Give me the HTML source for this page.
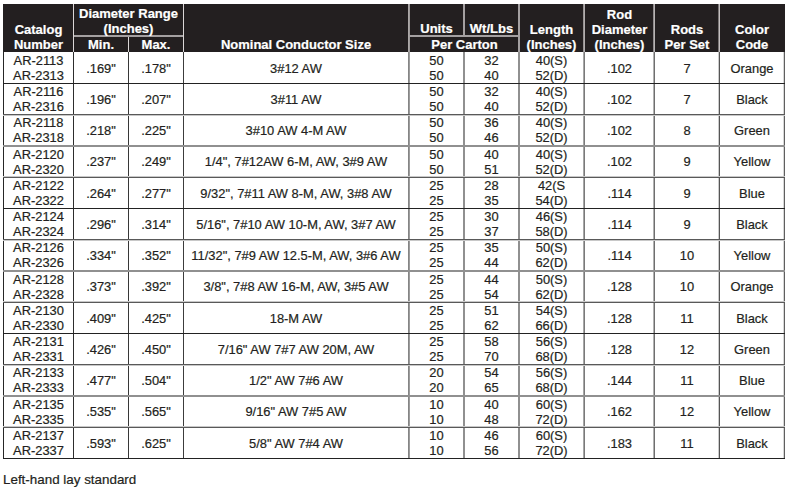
<!DOCTYPE html>
<html><head><meta charset="utf-8"><style>
html,body{margin:0;padding:0;background:#fff;}
body{width:787px;height:492px;position:relative;overflow:hidden;font-family:"Liberation Sans",sans-serif;}
.r{position:absolute;}
.t{position:absolute;white-space:nowrap;-webkit-text-stroke:0.2px currentColor;}
</style></head><body>
<div class="r" style="left:3px;top:4px;width:782px;height:48px;background:#231f20"></div>
<div class="r" style="left:73px;top:4px;width:1px;height:48px;background:#dad6d6"></div>
<div class="r" style="left:128px;top:36px;width:1px;height:16px;background:#dad6d6"></div>
<div class="r" style="left:183px;top:4px;width:1px;height:48px;background:#dad6d6"></div>
<div class="r" style="left:408px;top:4px;width:1px;height:48px;background:#aba7a7"></div>
<div class="r" style="left:409px;top:4px;width:1px;height:48px;background:#9e9a9a"></div>
<div class="r" style="left:463px;top:4px;width:1px;height:31px;background:#a4a0a1"></div>
<div class="r" style="left:464px;top:4px;width:1px;height:31px;background:#a4a0a1"></div>
<div class="r" style="left:518px;top:4px;width:1px;height:48px;background:#a4a0a1"></div>
<div class="r" style="left:519px;top:4px;width:1px;height:48px;background:#a4a0a1"></div>
<div class="r" style="left:583px;top:4px;width:1px;height:48px;background:#979393"></div>
<div class="r" style="left:584px;top:4px;width:1px;height:48px;background:#b1adad"></div>
<div class="r" style="left:653px;top:4px;width:1px;height:48px;background:#8f8b8c"></div>
<div class="r" style="left:654px;top:4px;width:1px;height:48px;background:#b7b3b3"></div>
<div class="r" style="left:718px;top:4px;width:1px;height:48px;background:#7b7777"></div>
<div class="r" style="left:719px;top:4px;width:1px;height:48px;background:#c4c0c0"></div>
<div class="r" style="left:74px;top:35px;width:109px;height:1px;background:#a4a0a1"></div>
<div class="r" style="left:74px;top:36px;width:109px;height:1px;background:#a4a0a1"></div>
<div class="r" style="left:409px;top:35px;width:109px;height:1px;background:#a4a0a1"></div>
<div class="r" style="left:409px;top:36px;width:109px;height:1px;background:#a4a0a1"></div>
<div class="r" style="left:3px;top:52px;width:1px;height:407px;background:#262626"></div>
<div class="r" style="left:73px;top:52px;width:1px;height:407px;background:#2d2d2d"></div>
<div class="r" style="left:128px;top:52px;width:1px;height:407px;background:#373737"></div>
<div class="r" style="left:183px;top:52px;width:1px;height:407px;background:#3c3c3c"></div>
<div class="r" style="left:408px;top:52px;width:1px;height:407px;background:#858585"></div>
<div class="r" style="left:409px;top:52px;width:1px;height:407px;background:#9c9c9c"></div>
<div class="r" style="left:463px;top:52px;width:1px;height:407px;background:#909090"></div>
<div class="r" style="left:464px;top:52px;width:1px;height:407px;background:#909090"></div>
<div class="r" style="left:518px;top:52px;width:1px;height:407px;background:#909090"></div>
<div class="r" style="left:519px;top:52px;width:1px;height:407px;background:#909090"></div>
<div class="r" style="left:583px;top:52px;width:1px;height:407px;background:#a7a7a7"></div>
<div class="r" style="left:584px;top:52px;width:1px;height:407px;background:#7a7a7a"></div>
<div class="r" style="left:653px;top:52px;width:1px;height:407px;background:#b2b2b2"></div>
<div class="r" style="left:654px;top:52px;width:1px;height:407px;background:#6f6f6f"></div>
<div class="r" style="left:718px;top:52px;width:1px;height:407px;background:#cccccc"></div>
<div class="r" style="left:719px;top:52px;width:1px;height:407px;background:#555555"></div>
<div class="r" style="left:783px;top:52px;width:1px;height:407px;background:#d7d7d7"></div>
<div class="r" style="left:784px;top:52px;width:1px;height:407px;background:#5f5f5f"></div>
<div class="r" style="left:3px;top:83px;width:782px;height:1px;background:#222222"></div>
<div class="r" style="left:3px;top:114px;width:782px;height:1px;background:#595959"></div>
<div class="r" style="left:3px;top:115px;width:782px;height:1px;background:#c8c8c8"></div>
<div class="r" style="left:3px;top:145px;width:782px;height:1px;background:#909090"></div>
<div class="r" style="left:3px;top:146px;width:782px;height:1px;background:#909090"></div>
<div class="r" style="left:3px;top:176px;width:782px;height:1px;background:#c8c8c8"></div>
<div class="r" style="left:3px;top:177px;width:782px;height:1px;background:#595959"></div>
<div class="r" style="left:3px;top:208px;width:782px;height:1px;background:#222222"></div>
<div class="r" style="left:3px;top:239px;width:782px;height:1px;background:#595959"></div>
<div class="r" style="left:3px;top:240px;width:782px;height:1px;background:#c8c8c8"></div>
<div class="r" style="left:3px;top:270px;width:782px;height:1px;background:#909090"></div>
<div class="r" style="left:3px;top:271px;width:782px;height:1px;background:#909090"></div>
<div class="r" style="left:3px;top:301px;width:782px;height:1px;background:#c8c8c8"></div>
<div class="r" style="left:3px;top:302px;width:782px;height:1px;background:#595959"></div>
<div class="r" style="left:3px;top:333px;width:782px;height:1px;background:#222222"></div>
<div class="r" style="left:3px;top:364px;width:782px;height:1px;background:#595959"></div>
<div class="r" style="left:3px;top:365px;width:782px;height:1px;background:#c8c8c8"></div>
<div class="r" style="left:3px;top:395px;width:782px;height:1px;background:#909090"></div>
<div class="r" style="left:3px;top:396px;width:782px;height:1px;background:#909090"></div>
<div class="r" style="left:3px;top:426px;width:782px;height:1px;background:#c8c8c8"></div>
<div class="r" style="left:3px;top:427px;width:782px;height:1px;background:#595959"></div>
<div class="r" style="left:3px;top:458px;width:782px;height:1px;background:#222222"></div>
<div class="t" style="left:4px;top:22px;width:69px;font-size:13px;line-height:16.25px;text-align:center;color:#fff;font-weight:bold">Catalog</div>
<div class="t" style="left:4px;top:37px;width:69px;font-size:13px;line-height:16.25px;text-align:center;color:#fff;font-weight:bold">Number</div>
<div class="t" style="left:74px;top:6px;width:109px;font-size:13px;line-height:16.25px;text-align:center;color:#fff;font-weight:bold">Diameter Range</div>
<div class="t" style="left:74px;top:21px;width:109px;font-size:13px;line-height:16.25px;text-align:center;color:#fff;font-weight:bold">(Inches)</div>
<div class="t" style="left:74px;top:37px;width:54px;font-size:13px;line-height:16.25px;text-align:center;color:#fff;font-weight:bold">Min.</div>
<div class="t" style="left:129px;top:37px;width:54px;font-size:13px;line-height:16.25px;text-align:center;color:#fff;font-weight:bold">Max.</div>
<div class="t" style="left:184px;top:37px;width:224px;font-size:13px;line-height:16.25px;text-align:center;color:#fff;font-weight:bold">Nominal Conductor Size</div>
<div class="t" style="left:410px;top:21px;width:53px;font-size:13px;line-height:16.25px;text-align:center;color:#fff;font-weight:bold">Units</div>
<div class="t" style="left:464px;top:21px;width:55px;font-size:13px;line-height:16.25px;text-align:center;color:#fff;font-weight:bold">Wt/Lbs</div>
<div class="t" style="left:410px;top:37px;width:109px;font-size:13px;line-height:16.25px;text-align:center;color:#fff;font-weight:bold">Per Carton</div>
<div class="t" style="left:519px;top:22px;width:65px;font-size:13px;line-height:16.25px;text-align:center;color:#fff;font-weight:bold">Length</div>
<div class="t" style="left:519px;top:37px;width:65px;font-size:13px;line-height:16.25px;text-align:center;color:#fff;font-weight:bold">(Inches)</div>
<div class="t" style="left:585px;top:7px;width:69px;font-size:13px;line-height:16.25px;text-align:center;color:#fff;font-weight:bold">Rod</div>
<div class="t" style="left:585px;top:22px;width:69px;font-size:13px;line-height:16.25px;text-align:center;color:#fff;font-weight:bold">Diameter</div>
<div class="t" style="left:585px;top:37px;width:69px;font-size:13px;line-height:16.25px;text-align:center;color:#fff;font-weight:bold">(Inches)</div>
<div class="t" style="left:655px;top:22px;width:64px;font-size:13px;line-height:16.25px;text-align:center;color:#fff;font-weight:bold">Rods</div>
<div class="t" style="left:655px;top:37px;width:64px;font-size:13px;line-height:16.25px;text-align:center;color:#fff;font-weight:bold">Per Set</div>
<div class="t" style="left:720px;top:22px;width:64px;font-size:13px;line-height:16.25px;text-align:center;color:#fff;font-weight:bold">Color</div>
<div class="t" style="left:720px;top:37px;width:64px;font-size:13px;line-height:16.25px;text-align:center;color:#fff;font-weight:bold">Code</div>
<div class="t" style="left:4px;top:53px;width:69px;font-size:12.9px;line-height:16.12px;text-align:center;color:#231f20">AR-2113</div>
<div class="t" style="left:4px;top:68px;width:69px;font-size:12.9px;line-height:16.12px;text-align:center;color:#231f20">AR-2313</div>
<div class="t" style="left:74px;top:61px;width:54px;font-size:12.9px;line-height:16.12px;text-align:center;color:#231f20">.169&quot;</div>
<div class="t" style="left:129px;top:61px;width:54px;font-size:12.9px;line-height:16.12px;text-align:center;color:#231f20">.178&quot;</div>
<div class="t" style="left:184px;top:61px;width:224px;font-size:12.9px;line-height:16.12px;text-align:center;color:#231f20">3#12 AW</div>
<div class="t" style="left:409px;top:53px;width:55px;font-size:12.9px;line-height:16.12px;text-align:center;color:#231f20">50</div>
<div class="t" style="left:409px;top:68px;width:55px;font-size:12.9px;line-height:16.12px;text-align:center;color:#231f20">50</div>
<div class="t" style="left:465px;top:53px;width:53px;font-size:12.9px;line-height:16.12px;text-align:center;color:#231f20">32</div>
<div class="t" style="left:465px;top:68px;width:53px;font-size:12.9px;line-height:16.12px;text-align:center;color:#231f20">40</div>
<div class="t" style="left:519px;top:53px;width:65px;font-size:12.9px;line-height:16.12px;text-align:center;color:#231f20">40(S)</div>
<div class="t" style="left:519px;top:68px;width:65px;font-size:12.9px;line-height:16.12px;text-align:center;color:#231f20">52(D)</div>
<div class="t" style="left:585px;top:61px;width:69px;font-size:12.9px;line-height:16.12px;text-align:center;color:#231f20">.102</div>
<div class="t" style="left:655px;top:61px;width:64px;font-size:12.9px;line-height:16.12px;text-align:center;color:#231f20">7</div>
<div class="t" style="left:720px;top:61px;width:64px;font-size:12.9px;line-height:16.12px;text-align:center;color:#231f20">Orange</div>
<div class="t" style="left:4px;top:84px;width:69px;font-size:12.9px;line-height:16.12px;text-align:center;color:#231f20">AR-2116</div>
<div class="t" style="left:4px;top:99px;width:69px;font-size:12.9px;line-height:16.12px;text-align:center;color:#231f20">AR-2316</div>
<div class="t" style="left:74px;top:92px;width:54px;font-size:12.9px;line-height:16.12px;text-align:center;color:#231f20">.196&quot;</div>
<div class="t" style="left:129px;top:92px;width:54px;font-size:12.9px;line-height:16.12px;text-align:center;color:#231f20">.207&quot;</div>
<div class="t" style="left:184px;top:92px;width:224px;font-size:12.9px;line-height:16.12px;text-align:center;color:#231f20">3#11 AW</div>
<div class="t" style="left:409px;top:84px;width:55px;font-size:12.9px;line-height:16.12px;text-align:center;color:#231f20">50</div>
<div class="t" style="left:409px;top:99px;width:55px;font-size:12.9px;line-height:16.12px;text-align:center;color:#231f20">50</div>
<div class="t" style="left:465px;top:84px;width:53px;font-size:12.9px;line-height:16.12px;text-align:center;color:#231f20">32</div>
<div class="t" style="left:465px;top:99px;width:53px;font-size:12.9px;line-height:16.12px;text-align:center;color:#231f20">40</div>
<div class="t" style="left:519px;top:84px;width:65px;font-size:12.9px;line-height:16.12px;text-align:center;color:#231f20">40(S)</div>
<div class="t" style="left:519px;top:99px;width:65px;font-size:12.9px;line-height:16.12px;text-align:center;color:#231f20">52(D)</div>
<div class="t" style="left:585px;top:92px;width:69px;font-size:12.9px;line-height:16.12px;text-align:center;color:#231f20">.102</div>
<div class="t" style="left:655px;top:92px;width:64px;font-size:12.9px;line-height:16.12px;text-align:center;color:#231f20">7</div>
<div class="t" style="left:720px;top:92px;width:64px;font-size:12.9px;line-height:16.12px;text-align:center;color:#231f20">Black</div>
<div class="t" style="left:4px;top:115px;width:69px;font-size:12.9px;line-height:16.12px;text-align:center;color:#231f20">AR-2118</div>
<div class="t" style="left:4px;top:130px;width:69px;font-size:12.9px;line-height:16.12px;text-align:center;color:#231f20">AR-2318</div>
<div class="t" style="left:74px;top:123px;width:54px;font-size:12.9px;line-height:16.12px;text-align:center;color:#231f20">.218&quot;</div>
<div class="t" style="left:129px;top:123px;width:54px;font-size:12.9px;line-height:16.12px;text-align:center;color:#231f20">.225&quot;</div>
<div class="t" style="left:184px;top:123px;width:224px;font-size:12.9px;line-height:16.12px;text-align:center;color:#231f20">3#10 AW 4-M AW</div>
<div class="t" style="left:409px;top:115px;width:55px;font-size:12.9px;line-height:16.12px;text-align:center;color:#231f20">50</div>
<div class="t" style="left:409px;top:130px;width:55px;font-size:12.9px;line-height:16.12px;text-align:center;color:#231f20">50</div>
<div class="t" style="left:465px;top:115px;width:53px;font-size:12.9px;line-height:16.12px;text-align:center;color:#231f20">36</div>
<div class="t" style="left:465px;top:130px;width:53px;font-size:12.9px;line-height:16.12px;text-align:center;color:#231f20">46</div>
<div class="t" style="left:519px;top:115px;width:65px;font-size:12.9px;line-height:16.12px;text-align:center;color:#231f20">40(S)</div>
<div class="t" style="left:519px;top:130px;width:65px;font-size:12.9px;line-height:16.12px;text-align:center;color:#231f20">52(D)</div>
<div class="t" style="left:585px;top:123px;width:69px;font-size:12.9px;line-height:16.12px;text-align:center;color:#231f20">.102</div>
<div class="t" style="left:655px;top:123px;width:64px;font-size:12.9px;line-height:16.12px;text-align:center;color:#231f20">8</div>
<div class="t" style="left:720px;top:123px;width:64px;font-size:12.9px;line-height:16.12px;text-align:center;color:#231f20">Green</div>
<div class="t" style="left:4px;top:147px;width:69px;font-size:12.9px;line-height:16.12px;text-align:center;color:#231f20">AR-2120</div>
<div class="t" style="left:4px;top:162px;width:69px;font-size:12.9px;line-height:16.12px;text-align:center;color:#231f20">AR-2320</div>
<div class="t" style="left:74px;top:154px;width:54px;font-size:12.9px;line-height:16.12px;text-align:center;color:#231f20">.237&quot;</div>
<div class="t" style="left:129px;top:154px;width:54px;font-size:12.9px;line-height:16.12px;text-align:center;color:#231f20">.249&quot;</div>
<div class="t" style="left:184px;top:154px;width:224px;font-size:12.9px;line-height:16.12px;text-align:center;color:#231f20">1/4&quot;, 7#12AW 6-M, AW, 3#9 AW</div>
<div class="t" style="left:409px;top:147px;width:55px;font-size:12.9px;line-height:16.12px;text-align:center;color:#231f20">50</div>
<div class="t" style="left:409px;top:162px;width:55px;font-size:12.9px;line-height:16.12px;text-align:center;color:#231f20">50</div>
<div class="t" style="left:465px;top:147px;width:53px;font-size:12.9px;line-height:16.12px;text-align:center;color:#231f20">40</div>
<div class="t" style="left:465px;top:162px;width:53px;font-size:12.9px;line-height:16.12px;text-align:center;color:#231f20">51</div>
<div class="t" style="left:519px;top:147px;width:65px;font-size:12.9px;line-height:16.12px;text-align:center;color:#231f20">40(S)</div>
<div class="t" style="left:519px;top:162px;width:65px;font-size:12.9px;line-height:16.12px;text-align:center;color:#231f20">52(D)</div>
<div class="t" style="left:585px;top:154px;width:69px;font-size:12.9px;line-height:16.12px;text-align:center;color:#231f20">.102</div>
<div class="t" style="left:655px;top:154px;width:64px;font-size:12.9px;line-height:16.12px;text-align:center;color:#231f20">9</div>
<div class="t" style="left:720px;top:154px;width:64px;font-size:12.9px;line-height:16.12px;text-align:center;color:#231f20">Yellow</div>
<div class="t" style="left:4px;top:178px;width:69px;font-size:12.9px;line-height:16.12px;text-align:center;color:#231f20">AR-2122</div>
<div class="t" style="left:4px;top:193px;width:69px;font-size:12.9px;line-height:16.12px;text-align:center;color:#231f20">AR-2322</div>
<div class="t" style="left:74px;top:186px;width:54px;font-size:12.9px;line-height:16.12px;text-align:center;color:#231f20">.264&quot;</div>
<div class="t" style="left:129px;top:186px;width:54px;font-size:12.9px;line-height:16.12px;text-align:center;color:#231f20">.277&quot;</div>
<div class="t" style="left:184px;top:186px;width:224px;font-size:12.9px;line-height:16.12px;text-align:center;color:#231f20">9/32&quot;, 7#11 AW 8-M, AW, 3#8 AW</div>
<div class="t" style="left:409px;top:178px;width:55px;font-size:12.9px;line-height:16.12px;text-align:center;color:#231f20">25</div>
<div class="t" style="left:409px;top:193px;width:55px;font-size:12.9px;line-height:16.12px;text-align:center;color:#231f20">25</div>
<div class="t" style="left:465px;top:178px;width:53px;font-size:12.9px;line-height:16.12px;text-align:center;color:#231f20">28</div>
<div class="t" style="left:465px;top:193px;width:53px;font-size:12.9px;line-height:16.12px;text-align:center;color:#231f20">35</div>
<div class="t" style="left:519px;top:178px;width:65px;font-size:12.9px;line-height:16.12px;text-align:center;color:#231f20">42(S</div>
<div class="t" style="left:519px;top:193px;width:65px;font-size:12.9px;line-height:16.12px;text-align:center;color:#231f20">54(D)</div>
<div class="t" style="left:585px;top:186px;width:69px;font-size:12.9px;line-height:16.12px;text-align:center;color:#231f20">.114</div>
<div class="t" style="left:655px;top:186px;width:64px;font-size:12.9px;line-height:16.12px;text-align:center;color:#231f20">9</div>
<div class="t" style="left:720px;top:186px;width:64px;font-size:12.9px;line-height:16.12px;text-align:center;color:#231f20">Blue</div>
<div class="t" style="left:4px;top:209px;width:69px;font-size:12.9px;line-height:16.12px;text-align:center;color:#231f20">AR-2124</div>
<div class="t" style="left:4px;top:224px;width:69px;font-size:12.9px;line-height:16.12px;text-align:center;color:#231f20">AR-2324</div>
<div class="t" style="left:74px;top:217px;width:54px;font-size:12.9px;line-height:16.12px;text-align:center;color:#231f20">.296&quot;</div>
<div class="t" style="left:129px;top:217px;width:54px;font-size:12.9px;line-height:16.12px;text-align:center;color:#231f20">.314&quot;</div>
<div class="t" style="left:184px;top:217px;width:224px;font-size:12.9px;line-height:16.12px;text-align:center;color:#231f20">5/16&quot;, 7#10 AW 10-M, AW, 3#7 AW</div>
<div class="t" style="left:409px;top:209px;width:55px;font-size:12.9px;line-height:16.12px;text-align:center;color:#231f20">25</div>
<div class="t" style="left:409px;top:224px;width:55px;font-size:12.9px;line-height:16.12px;text-align:center;color:#231f20">25</div>
<div class="t" style="left:465px;top:209px;width:53px;font-size:12.9px;line-height:16.12px;text-align:center;color:#231f20">30</div>
<div class="t" style="left:465px;top:224px;width:53px;font-size:12.9px;line-height:16.12px;text-align:center;color:#231f20">37</div>
<div class="t" style="left:519px;top:209px;width:65px;font-size:12.9px;line-height:16.12px;text-align:center;color:#231f20">46(S)</div>
<div class="t" style="left:519px;top:224px;width:65px;font-size:12.9px;line-height:16.12px;text-align:center;color:#231f20">58(D)</div>
<div class="t" style="left:585px;top:217px;width:69px;font-size:12.9px;line-height:16.12px;text-align:center;color:#231f20">.114</div>
<div class="t" style="left:655px;top:217px;width:64px;font-size:12.9px;line-height:16.12px;text-align:center;color:#231f20">9</div>
<div class="t" style="left:720px;top:217px;width:64px;font-size:12.9px;line-height:16.12px;text-align:center;color:#231f20">Black</div>
<div class="t" style="left:4px;top:240px;width:69px;font-size:12.9px;line-height:16.12px;text-align:center;color:#231f20">AR-2126</div>
<div class="t" style="left:4px;top:255px;width:69px;font-size:12.9px;line-height:16.12px;text-align:center;color:#231f20">AR-2326</div>
<div class="t" style="left:74px;top:248px;width:54px;font-size:12.9px;line-height:16.12px;text-align:center;color:#231f20">.334&quot;</div>
<div class="t" style="left:129px;top:248px;width:54px;font-size:12.9px;line-height:16.12px;text-align:center;color:#231f20">.352&quot;</div>
<div class="t" style="left:184px;top:248px;width:224px;font-size:12.9px;line-height:16.12px;text-align:center;color:#231f20">11/32&quot;, 7#9 AW 12.5-M, AW, 3#6 AW</div>
<div class="t" style="left:409px;top:240px;width:55px;font-size:12.9px;line-height:16.12px;text-align:center;color:#231f20">25</div>
<div class="t" style="left:409px;top:255px;width:55px;font-size:12.9px;line-height:16.12px;text-align:center;color:#231f20">25</div>
<div class="t" style="left:465px;top:240px;width:53px;font-size:12.9px;line-height:16.12px;text-align:center;color:#231f20">35</div>
<div class="t" style="left:465px;top:255px;width:53px;font-size:12.9px;line-height:16.12px;text-align:center;color:#231f20">44</div>
<div class="t" style="left:519px;top:240px;width:65px;font-size:12.9px;line-height:16.12px;text-align:center;color:#231f20">50(S)</div>
<div class="t" style="left:519px;top:255px;width:65px;font-size:12.9px;line-height:16.12px;text-align:center;color:#231f20">62(D)</div>
<div class="t" style="left:585px;top:248px;width:69px;font-size:12.9px;line-height:16.12px;text-align:center;color:#231f20">.114</div>
<div class="t" style="left:655px;top:248px;width:64px;font-size:12.9px;line-height:16.12px;text-align:center;color:#231f20">10</div>
<div class="t" style="left:720px;top:248px;width:64px;font-size:12.9px;line-height:16.12px;text-align:center;color:#231f20">Yellow</div>
<div class="t" style="left:4px;top:272px;width:69px;font-size:12.9px;line-height:16.12px;text-align:center;color:#231f20">AR-2128</div>
<div class="t" style="left:4px;top:287px;width:69px;font-size:12.9px;line-height:16.12px;text-align:center;color:#231f20">AR-2328</div>
<div class="t" style="left:74px;top:279px;width:54px;font-size:12.9px;line-height:16.12px;text-align:center;color:#231f20">.373&quot;</div>
<div class="t" style="left:129px;top:279px;width:54px;font-size:12.9px;line-height:16.12px;text-align:center;color:#231f20">.392&quot;</div>
<div class="t" style="left:184px;top:279px;width:224px;font-size:12.9px;line-height:16.12px;text-align:center;color:#231f20">3/8&quot;, 7#8 AW 16-M, AW, 3#5 AW</div>
<div class="t" style="left:409px;top:272px;width:55px;font-size:12.9px;line-height:16.12px;text-align:center;color:#231f20">25</div>
<div class="t" style="left:409px;top:287px;width:55px;font-size:12.9px;line-height:16.12px;text-align:center;color:#231f20">25</div>
<div class="t" style="left:465px;top:272px;width:53px;font-size:12.9px;line-height:16.12px;text-align:center;color:#231f20">44</div>
<div class="t" style="left:465px;top:287px;width:53px;font-size:12.9px;line-height:16.12px;text-align:center;color:#231f20">54</div>
<div class="t" style="left:519px;top:272px;width:65px;font-size:12.9px;line-height:16.12px;text-align:center;color:#231f20">50(S)</div>
<div class="t" style="left:519px;top:287px;width:65px;font-size:12.9px;line-height:16.12px;text-align:center;color:#231f20">62(D)</div>
<div class="t" style="left:585px;top:279px;width:69px;font-size:12.9px;line-height:16.12px;text-align:center;color:#231f20">.128</div>
<div class="t" style="left:655px;top:279px;width:64px;font-size:12.9px;line-height:16.12px;text-align:center;color:#231f20">10</div>
<div class="t" style="left:720px;top:279px;width:64px;font-size:12.9px;line-height:16.12px;text-align:center;color:#231f20">Orange</div>
<div class="t" style="left:4px;top:303px;width:69px;font-size:12.9px;line-height:16.12px;text-align:center;color:#231f20">AR-2130</div>
<div class="t" style="left:4px;top:318px;width:69px;font-size:12.9px;line-height:16.12px;text-align:center;color:#231f20">AR-2330</div>
<div class="t" style="left:74px;top:311px;width:54px;font-size:12.9px;line-height:16.12px;text-align:center;color:#231f20">.409&quot;</div>
<div class="t" style="left:129px;top:311px;width:54px;font-size:12.9px;line-height:16.12px;text-align:center;color:#231f20">.425&quot;</div>
<div class="t" style="left:184px;top:311px;width:224px;font-size:12.9px;line-height:16.12px;text-align:center;color:#231f20">18-M AW</div>
<div class="t" style="left:409px;top:303px;width:55px;font-size:12.9px;line-height:16.12px;text-align:center;color:#231f20">25</div>
<div class="t" style="left:409px;top:318px;width:55px;font-size:12.9px;line-height:16.12px;text-align:center;color:#231f20">25</div>
<div class="t" style="left:465px;top:303px;width:53px;font-size:12.9px;line-height:16.12px;text-align:center;color:#231f20">51</div>
<div class="t" style="left:465px;top:318px;width:53px;font-size:12.9px;line-height:16.12px;text-align:center;color:#231f20">62</div>
<div class="t" style="left:519px;top:303px;width:65px;font-size:12.9px;line-height:16.12px;text-align:center;color:#231f20">54(S)</div>
<div class="t" style="left:519px;top:318px;width:65px;font-size:12.9px;line-height:16.12px;text-align:center;color:#231f20">66(D)</div>
<div class="t" style="left:585px;top:311px;width:69px;font-size:12.9px;line-height:16.12px;text-align:center;color:#231f20">.128</div>
<div class="t" style="left:655px;top:311px;width:64px;font-size:12.9px;line-height:16.12px;text-align:center;color:#231f20">11</div>
<div class="t" style="left:720px;top:311px;width:64px;font-size:12.9px;line-height:16.12px;text-align:center;color:#231f20">Black</div>
<div class="t" style="left:4px;top:334px;width:69px;font-size:12.9px;line-height:16.12px;text-align:center;color:#231f20">AR-2131</div>
<div class="t" style="left:4px;top:349px;width:69px;font-size:12.9px;line-height:16.12px;text-align:center;color:#231f20">AR-2331</div>
<div class="t" style="left:74px;top:342px;width:54px;font-size:12.9px;line-height:16.12px;text-align:center;color:#231f20">.426&quot;</div>
<div class="t" style="left:129px;top:342px;width:54px;font-size:12.9px;line-height:16.12px;text-align:center;color:#231f20">.450&quot;</div>
<div class="t" style="left:184px;top:342px;width:224px;font-size:12.9px;line-height:16.12px;text-align:center;color:#231f20">7/16&quot; AW 7#7 AW 20M, AW</div>
<div class="t" style="left:409px;top:334px;width:55px;font-size:12.9px;line-height:16.12px;text-align:center;color:#231f20">25</div>
<div class="t" style="left:409px;top:349px;width:55px;font-size:12.9px;line-height:16.12px;text-align:center;color:#231f20">25</div>
<div class="t" style="left:465px;top:334px;width:53px;font-size:12.9px;line-height:16.12px;text-align:center;color:#231f20">58</div>
<div class="t" style="left:465px;top:349px;width:53px;font-size:12.9px;line-height:16.12px;text-align:center;color:#231f20">70</div>
<div class="t" style="left:519px;top:334px;width:65px;font-size:12.9px;line-height:16.12px;text-align:center;color:#231f20">56(S)</div>
<div class="t" style="left:519px;top:349px;width:65px;font-size:12.9px;line-height:16.12px;text-align:center;color:#231f20">68(D)</div>
<div class="t" style="left:585px;top:342px;width:69px;font-size:12.9px;line-height:16.12px;text-align:center;color:#231f20">.128</div>
<div class="t" style="left:655px;top:342px;width:64px;font-size:12.9px;line-height:16.12px;text-align:center;color:#231f20">12</div>
<div class="t" style="left:720px;top:342px;width:64px;font-size:12.9px;line-height:16.12px;text-align:center;color:#231f20">Green</div>
<div class="t" style="left:4px;top:365px;width:69px;font-size:12.9px;line-height:16.12px;text-align:center;color:#231f20">AR-2133</div>
<div class="t" style="left:4px;top:380px;width:69px;font-size:12.9px;line-height:16.12px;text-align:center;color:#231f20">AR-2333</div>
<div class="t" style="left:74px;top:373px;width:54px;font-size:12.9px;line-height:16.12px;text-align:center;color:#231f20">.477&quot;</div>
<div class="t" style="left:129px;top:373px;width:54px;font-size:12.9px;line-height:16.12px;text-align:center;color:#231f20">.504&quot;</div>
<div class="t" style="left:184px;top:373px;width:224px;font-size:12.9px;line-height:16.12px;text-align:center;color:#231f20">1/2&quot; AW 7#6 AW</div>
<div class="t" style="left:409px;top:365px;width:55px;font-size:12.9px;line-height:16.12px;text-align:center;color:#231f20">20</div>
<div class="t" style="left:409px;top:380px;width:55px;font-size:12.9px;line-height:16.12px;text-align:center;color:#231f20">20</div>
<div class="t" style="left:465px;top:365px;width:53px;font-size:12.9px;line-height:16.12px;text-align:center;color:#231f20">54</div>
<div class="t" style="left:465px;top:380px;width:53px;font-size:12.9px;line-height:16.12px;text-align:center;color:#231f20">65</div>
<div class="t" style="left:519px;top:365px;width:65px;font-size:12.9px;line-height:16.12px;text-align:center;color:#231f20">56(S)</div>
<div class="t" style="left:519px;top:380px;width:65px;font-size:12.9px;line-height:16.12px;text-align:center;color:#231f20">68(D)</div>
<div class="t" style="left:585px;top:373px;width:69px;font-size:12.9px;line-height:16.12px;text-align:center;color:#231f20">.144</div>
<div class="t" style="left:655px;top:373px;width:64px;font-size:12.9px;line-height:16.12px;text-align:center;color:#231f20">11</div>
<div class="t" style="left:720px;top:373px;width:64px;font-size:12.9px;line-height:16.12px;text-align:center;color:#231f20">Blue</div>
<div class="t" style="left:4px;top:397px;width:69px;font-size:12.9px;line-height:16.12px;text-align:center;color:#231f20">AR-2135</div>
<div class="t" style="left:4px;top:412px;width:69px;font-size:12.9px;line-height:16.12px;text-align:center;color:#231f20">AR-2335</div>
<div class="t" style="left:74px;top:404px;width:54px;font-size:12.9px;line-height:16.12px;text-align:center;color:#231f20">.535&quot;</div>
<div class="t" style="left:129px;top:404px;width:54px;font-size:12.9px;line-height:16.12px;text-align:center;color:#231f20">.565&quot;</div>
<div class="t" style="left:184px;top:404px;width:224px;font-size:12.9px;line-height:16.12px;text-align:center;color:#231f20">9/16&quot; AW 7#5 AW</div>
<div class="t" style="left:409px;top:397px;width:55px;font-size:12.9px;line-height:16.12px;text-align:center;color:#231f20">10</div>
<div class="t" style="left:409px;top:412px;width:55px;font-size:12.9px;line-height:16.12px;text-align:center;color:#231f20">10</div>
<div class="t" style="left:465px;top:397px;width:53px;font-size:12.9px;line-height:16.12px;text-align:center;color:#231f20">40</div>
<div class="t" style="left:465px;top:412px;width:53px;font-size:12.9px;line-height:16.12px;text-align:center;color:#231f20">48</div>
<div class="t" style="left:519px;top:397px;width:65px;font-size:12.9px;line-height:16.12px;text-align:center;color:#231f20">60(S)</div>
<div class="t" style="left:519px;top:412px;width:65px;font-size:12.9px;line-height:16.12px;text-align:center;color:#231f20">72(D)</div>
<div class="t" style="left:585px;top:404px;width:69px;font-size:12.9px;line-height:16.12px;text-align:center;color:#231f20">.162</div>
<div class="t" style="left:655px;top:404px;width:64px;font-size:12.9px;line-height:16.12px;text-align:center;color:#231f20">12</div>
<div class="t" style="left:720px;top:404px;width:64px;font-size:12.9px;line-height:16.12px;text-align:center;color:#231f20">Yellow</div>
<div class="t" style="left:4px;top:428px;width:69px;font-size:12.9px;line-height:16.12px;text-align:center;color:#231f20">AR-2137</div>
<div class="t" style="left:4px;top:443px;width:69px;font-size:12.9px;line-height:16.12px;text-align:center;color:#231f20">AR-2337</div>
<div class="t" style="left:74px;top:436px;width:54px;font-size:12.9px;line-height:16.12px;text-align:center;color:#231f20">.593&quot;</div>
<div class="t" style="left:129px;top:436px;width:54px;font-size:12.9px;line-height:16.12px;text-align:center;color:#231f20">.625&quot;</div>
<div class="t" style="left:184px;top:436px;width:224px;font-size:12.9px;line-height:16.12px;text-align:center;color:#231f20">5/8&quot; AW 7#4 AW</div>
<div class="t" style="left:409px;top:428px;width:55px;font-size:12.9px;line-height:16.12px;text-align:center;color:#231f20">10</div>
<div class="t" style="left:409px;top:443px;width:55px;font-size:12.9px;line-height:16.12px;text-align:center;color:#231f20">10</div>
<div class="t" style="left:465px;top:428px;width:53px;font-size:12.9px;line-height:16.12px;text-align:center;color:#231f20">46</div>
<div class="t" style="left:465px;top:443px;width:53px;font-size:12.9px;line-height:16.12px;text-align:center;color:#231f20">56</div>
<div class="t" style="left:519px;top:428px;width:65px;font-size:12.9px;line-height:16.12px;text-align:center;color:#231f20">60(S)</div>
<div class="t" style="left:519px;top:443px;width:65px;font-size:12.9px;line-height:16.12px;text-align:center;color:#231f20">72(D)</div>
<div class="t" style="left:585px;top:436px;width:69px;font-size:12.9px;line-height:16.12px;text-align:center;color:#231f20">.183</div>
<div class="t" style="left:655px;top:436px;width:64px;font-size:12.9px;line-height:16.12px;text-align:center;color:#231f20">11</div>
<div class="t" style="left:720px;top:436px;width:64px;font-size:12.9px;line-height:16.12px;text-align:center;color:#231f20">Black</div>
<div class="t" style="left:3px;top:472px;width:297px;font-size:13.4px;line-height:16.75px;text-align:left;color:#231f20">Left-hand lay standard</div>
</body></html>
